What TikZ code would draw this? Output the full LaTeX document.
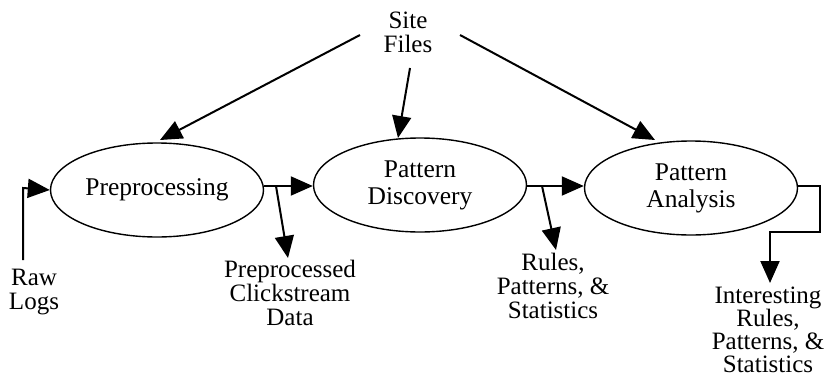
\documentclass[tikz,border=0pt]{standalone}
\usepackage{fontspec}
\setmainfont{Liberation Serif}
\usetikzlibrary{arrows.meta,shapes.geometric}
\begin{document}
\begin{tikzpicture}[x=1pt,y=-1pt,
  proc/.style={draw,ellipse,line width=1.4pt,minimum width=213pt,minimum height=94pt,inner sep=0pt,align=center,
    font=\fontsize{25.5}{27}\selectfont},
  lbl/.style={align=center,inner sep=0pt,font=\fontsize{25}{24}\selectfont},
  arr/.style={line width=2pt,-{Triangle[length=22pt,width=19pt]}}]
\useasboundingbox (0,0) rectangle (829,380);
\node[proc] (pre) at (157,190) {Preprocessing};
\node[proc] (disc) at (420,185) {Pattern\\Discovery};
\node[proc] (ana) at (691,188) {Pattern\\Analysis};
\node[lbl] (site) at (408,32) {Site\\Files};
\node[lbl] (raw) at (34,292) {Raw\\Logs};
\node[lbl] (ppd) at (290,293) {Preprocessed\\Clickstream\\Data};
\node[lbl] (rps) at (553,286) {Rules,\\Patterns, \&\\Statistics};
\node[lbl,font=\fontsize{25}{23}\selectfont] (irps) at (768,330) {Interesting\\Rules,\\Patterns, \&\\Statistics};
% site file arrows
\coordinate (s1) at (360,35);
\coordinate (t1) at (160,140);
\coordinate (s2) at (410,68);
\coordinate (t2) at (398,138);
\coordinate (s3) at (460,35);
\coordinate (t3) at (655,140);
\draw[arr] (s1) -- (t1);
\draw[arr] (s2) -- (t2);
\draw[arr] (s3) -- (t3);
% raw logs
\coordinate (r0) at (23,260);
\coordinate (r1) at (23,188);
\draw[arr] (r0) -- (r1) -- (pre.west);
% pre -> disc
\draw[arr] (pre.east |- 0,186) -- (disc.west |- 0,186);
\coordinate (b1) at (276,186);
\coordinate (b1t) at (288,258);
\draw[arr] (b1) -- (b1t);
% disc -> ana
\draw[arr] (disc.east |- 0,186) -- (ana.west |- 0,186);
\coordinate (b2) at (542,186);
\coordinate (b2t) at (556,250);
\draw[arr] (b2) -- (b2t);
% ana -> out
\coordinate (c1) at (820,186);
\coordinate (c2) at (820,232);
\coordinate (c3) at (770,232);
\coordinate (c4) at (770,283);
\draw[arr] (ana.east |- 0,186) -- (c1) -- (c2) -- (c3) -- (c4);
\end{tikzpicture}
\end{document}
